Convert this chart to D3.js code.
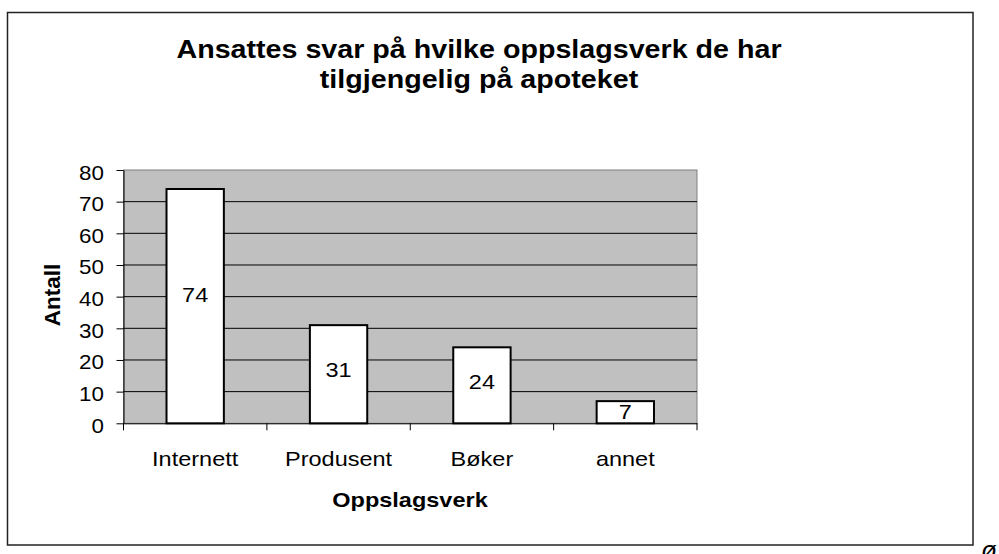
<!DOCTYPE html>
<html>
<head>
<meta charset="utf-8">
<script src="https://cdn.jsdelivr.net/npm/d3@7"></script>
<style>
  body { margin: 0; background: #fff; }
  text { font-family: "Liberation Sans", Arial, sans-serif; fill: #000; }
</style>
</head>
<body>
<div id="chart"></div>
<script>
var categories = ["Internett", "Produsent", "Bøker", "annet"];
var values = [74, 31, 24, 7];
var yTicks = [0, 10, 20, 30, 40, 50, 60, 70, 80];
var titleLines = ["Ansattes svar på hvilke oppslagsverk de har", "tilgjengelig på apoteket"];

var svgWidth = 999;
var svgHeight = 554;
var sx = 1.12; // text in the picture is a bit wider than it is tall

var plot = { left: 123.5, right: 697, top: 170, bottom: 423.3 };

var svg = d3.select("#chart")
  .append("svg")
  .attr("width", svgWidth)
  .attr("height", svgHeight);

// outer frame
svg.append("rect")
  .attr("x", 7.5).attr("y", 12.5)
  .attr("width", 965.5).attr("height", 532.5)
  .attr("fill", "#fff")
  .attr("stroke", "#222")
  .attr("stroke-width", 1.5);

function place(sel, x, y) {
  return sel.attr("transform", `translate(${x},${y}) scale(${sx},1)`);
}

// title
titleLines.forEach(function(line, i) {
  place(svg.append("text"), 479, 58.3 + i * 30)
    .attr("text-anchor", "middle")
    .attr("font-size", "25.6px")
    .attr("font-weight", "bold")
    .text(line);
});

var x = d3.scaleBand()
  .domain(categories)
  .range([plot.left, plot.right])
  .padding(0);

var y = d3.scaleLinear()
  .domain([0, 80])
  .range([plot.bottom, plot.top]);

// plot area
svg.append("rect")
  .attr("x", plot.left).attr("y", plot.top)
  .attr("width", plot.right - plot.left)
  .attr("height", plot.bottom - plot.top)
  .attr("fill", "#c0c0c0")
  .attr("stroke", "#808080")
  .attr("stroke-width", 1);

// gridlines
svg.append("g")
  .selectAll("line")
  .data(yTicks.filter(d => d > 0 && d < 80))
  .enter()
  .append("line")
  .attr("x1", plot.left).attr("x2", plot.right)
  .attr("y1", d => y(d)).attr("y2", d => y(d))
  .attr("stroke", "#000")
  .attr("stroke-width", 1);

// bars
var bw = x.bandwidth() * 0.4;
svg.append("g")
  .selectAll("rect")
  .data(values)
  .enter()
  .append("rect")
  .attr("x", (d, i) => x(categories[i]) + (x.bandwidth() - bw) / 2)
  .attr("y", d => y(d))
  .attr("width", bw)
  .attr("height", d => y(0) - y(d))
  .attr("fill", "#fff")
  .attr("stroke", "#000")
  .attr("stroke-width", 2);

// value labels
svg.append("g")
  .selectAll("text")
  .data(values)
  .enter()
  .append("text")
  .each(function(d, i) {
    place(d3.select(this), x(categories[i]) + x.bandwidth() / 2, y(d * 0.55));
  })
  .attr("dy", "0.36em")
  .attr("text-anchor", "middle")
  .attr("font-size", "21px")
  .text(d => d);

// y axis
var yAxis = svg.append("g")
  .attr("transform", `translate(${plot.left},0)`)
  .call(d3.axisLeft(y).tickValues(yTicks).tickSize(7).tickSizeOuter(0));
yAxis.selectAll("path, line").attr("stroke", "#000");
yAxis.selectAll("text")
  .attr("x", null)
  .attr("dy", "0.45em")
  .attr("font-size", "20px")
  .attr("font-family", "Liberation Sans, Arial, sans-serif")
  .attr("fill", "#000")
  .attr("transform", `translate(-19.5,0) scale(${sx},1)`);

// x axis
var xAxis = svg.append("g")
  .attr("transform", `translate(0,${plot.bottom})`)
  .call(d3.axisBottom(x).tickSize(0).tickSizeOuter(0));
xAxis.selectAll("path").attr("stroke", "#000");
xAxis.selectAll("text")
  .attr("y", null)
  .attr("dy", null)
  .attr("font-size", "21px")
  .attr("font-family", "Liberation Sans, Arial, sans-serif")
  .attr("fill", "#000")
  .attr("transform", `translate(0,42.7) scale(${sx},1)`);

// category boundary ticks
xAxis.selectAll(".bound")
  .data(categories.map(c => x(c)).concat([plot.right]))
  .enter()
  .append("line")
  .attr("class", "bound")
  .attr("x1", d => d).attr("x2", d => d)
  .attr("y1", 0).attr("y2", 7)
  .attr("stroke", "#000");

// axis titles
place(svg.append("text"), 410, 507.3)
  .attr("text-anchor", "middle")
  .attr("font-size", "21px")
  .attr("font-weight", "bold")
  .text("Oppslagsverk");

svg.append("text")
  .attr("transform", "translate(60,295) rotate(-90)")
  .attr("text-anchor", "middle")
  .attr("font-size", "22.5px")
  .attr("font-weight", "bold")
  .text("Antall");

// stray character from the page below the chart
svg.append("text")
  .attr("x", 981).attr("y", 559)
  .attr("font-family", "Liberation Serif, serif")
  .attr("font-style", "italic")
  .attr("font-size", "26px")
  .text("ø");
</script>
</body>
</html>
